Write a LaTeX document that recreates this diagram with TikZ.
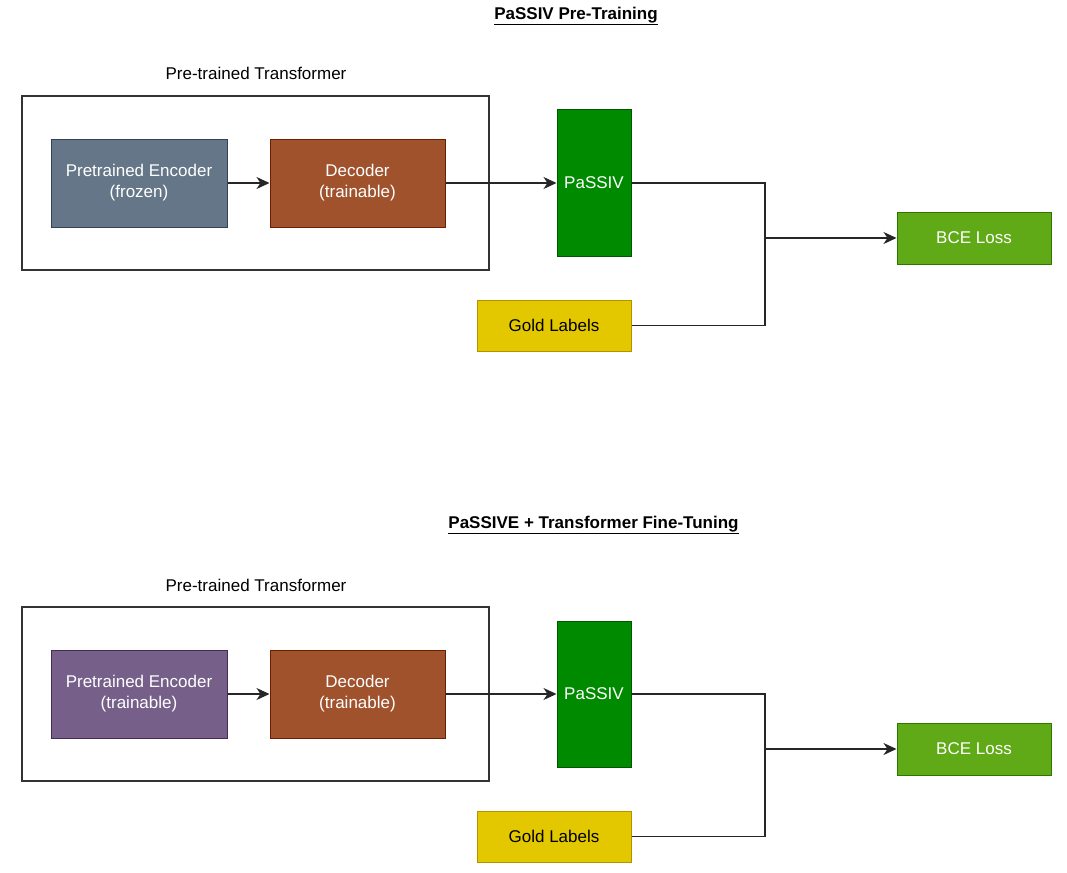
\documentclass[tikz,border=0pt]{standalone}
\usepackage{fontspec}
\setmainfont{Liberation Sans}
\usetikzlibrary{arrows.meta}

\definecolor{slatefill}{HTML}{647687}
\definecolor{slateline}{HTML}{314354}
\definecolor{purplefill}{HTML}{76608A}
\definecolor{purpleline}{HTML}{432D57}
\definecolor{brownfill}{HTML}{A0522D}
\definecolor{brownline}{HTML}{6D1F00}
\definecolor{greenfill}{HTML}{008A00}
\definecolor{greenline}{HTML}{005700}
\definecolor{limefill}{HTML}{60A917}
\definecolor{limeline}{HTML}{2D7600}
\definecolor{goldfill}{HTML}{E3C800}
\definecolor{goldline}{HTML}{B09500}

\begin{document}
\begin{tikzpicture}[x=1pt,y=-1pt,font=\fontsize{17}{21}\selectfont]

    \tikzset{blockstyle/.style={draw,shape=rectangle,text=white,align=center,line width=1pt,inner sep=0pt},
             framestyle/.style={draw=black!80,shape=rectangle,line width=1.2pt,inner sep=0pt},
             titlestyle/.style={font=\fontsize{17}{21}\selectfont\bfseries}}
    \useasboundingbox (0,0) rectangle (1067,872);

    % pre-training
    \node[titlestyle] (t1) at (576,16) {\underline{PaSSIV Pre-Training}};
    \node (lab1) at (256,73) {Pre-trained Transformer};
    \node[framestyle,minimum width=467pt,minimum height=174pt] (tr1) at (255.5,183) {};
    \node[blockstyle,fill=slatefill,draw=slateline,minimum width=176pt,minimum height=88pt] (enc1) at (139,183) {Pretrained Encoder\\(frozen)};
    \node[blockstyle,fill=brownfill,draw=brownline,minimum width=175pt,minimum height=88pt] (dec1) at (357.5,183) {Decoder\\(trainable)};
    \node[blockstyle,fill=greenfill,draw=greenline,minimum width=74pt,minimum height=146pt] (pas1) at (594,183) {PaSSIV};
    \node[blockstyle,fill=limefill,draw=limeline,minimum width=154pt,minimum height=52pt] (bce1) at (974,238) {BCE Loss};
    \node[blockstyle,fill=goldfill,draw=goldline,text=black,minimum width=154pt,minimum height=51pt] (gold1) at (554,325.5) {Gold Labels};
    \coordinate (j1) at (765,238);

    % fine-tuning
    \node[titlestyle] (t2) at (593.5,525) {\underline{PaSSIVE + Transformer Fine-Tuning}};
    \node (lab2) at (256,585) {Pre-trained Transformer};
    \node[framestyle,minimum width=467pt,minimum height=174pt] (tr2) at (255.5,694) {};
    \node[blockstyle,fill=purplefill,draw=purpleline,minimum width=176pt,minimum height=88pt] (enc2) at (139,694) {Pretrained Encoder\\(trainable)};
    \node[blockstyle,fill=brownfill,draw=brownline,minimum width=175pt,minimum height=88pt] (dec2) at (357.5,694) {Decoder\\(trainable)};
    \node[blockstyle,fill=greenfill,draw=greenline,minimum width=74pt,minimum height=146pt] (pas2) at (594,694) {PaSSIV};
    \node[blockstyle,fill=limefill,draw=limeline,minimum width=154pt,minimum height=52pt] (bce2) at (974,749) {BCE Loss};
    \node[blockstyle,fill=goldfill,draw=goldline,text=black,minimum width=154pt,minimum height=51pt] (gold2) at (554,836.5) {Gold Labels};
    \coordinate (j2) at (765,749);

    \begin{scope}[every path/.style={draw=black!85,line width=1.2pt}]
        \draw (pas1.east) -| (j1) |- (gold1.east);
        \draw (pas2.east) -| (j2) |- (gold2.east);
    \end{scope}

    \begin{scope}[every path/.style={draw=black!85,line width=1.2pt,-{Stealth[length=13pt,width=12pt,inset=4pt]}}]
        \draw (enc1) -- (dec1);
        \draw (dec1) -- (pas1);
        \draw (j1) -- (bce1);

        \draw (enc2) -- (dec2);
        \draw (dec2) -- (pas2);
        \draw (j2) -- (bce2);
    \end{scope}

\end{tikzpicture}
\end{document}
